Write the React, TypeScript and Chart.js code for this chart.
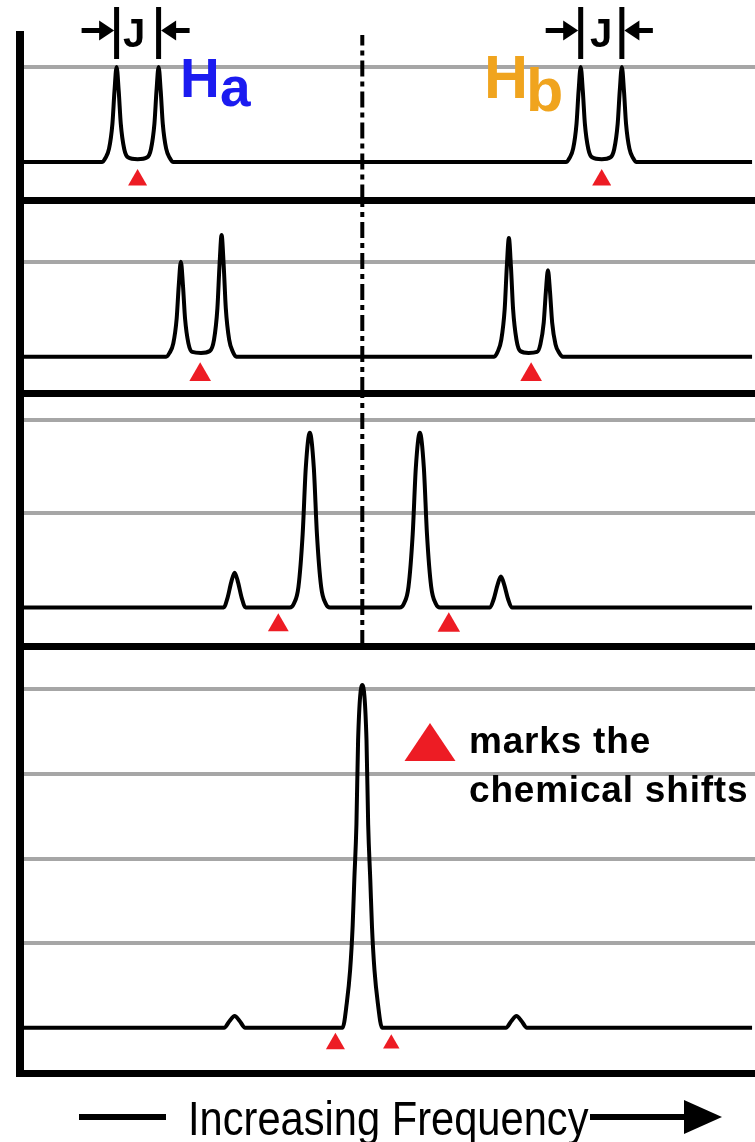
import React, { useEffect, useRef } from "react";
import { Chart, registerables } from "chart.js";

Chart.register(...registerables);

// Frequency axis in Hz (0 = midpoint of the two chemical shifts in the last panel)
const FREQ_MIN = -81.5;
const FREQ_MAX = 93.5;
const CENTER_HZ = 0;

// Spectra: [frequency (Hz), intensity], one per panel
const SPECTRUM_1: [number, number][] = [
  [-81.5, 0], [-62, 0], [-61.2, 0.04], [-60.3, 0.14], [-59.5, 0.4], [-59, 0.75], [-58.5, 1], [-58, 0.75],
  [-57.5, 0.4], [-56.7, 0.14], [-55.8, 0.05], [-53.5, 0.03], [-51.2, 0.05], [-50.3, 0.14], [-49.5, 0.4],
  [-49, 0.75], [-48.5, 1], [-48, 0.75], [-47.5, 0.4], [-46.7, 0.14], [-45.8, 0.04], [-45, 0],
  [48.5, 0], [49.3, 0.04], [50.2, 0.14], [51, 0.4], [51.5, 0.75], [52, 1], [52.5, 0.75], [53, 0.4],
  [53.8, 0.14], [54.7, 0.05], [57, 0.03], [59.1, 0.05], [60, 0.14], [60.8, 0.4], [61.3, 0.75], [61.8, 1],
  [62.3, 0.75], [62.8, 0.4], [63.6, 0.14], [64.5, 0.04], [65.3, 0], [92.8, 0],
];
const SPECTRUM_2: [number, number][] = [
  [-81.5, 0], [-46.7, 0], [-45.9, 0.04], [-45, 0.14], [-44.2, 0.4], [-43.7, 0.75], [-43.2, 1], [-42.7, 0.75],
  [-42.2, 0.4], [-41.4, 0.14], [-40.5, 0.05], [-38.4, 0.04], [-36.3, 0.06], [-35.3, 0.18], [-34.5, 0.51],
  [-34, 0.96], [-33.5, 1.28], [-33, 0.96], [-32.5, 0.51], [-31.7, 0.18], [-30.8, 0.05], [-30, 0],
  [31.4, 0], [32.2, 0.05], [33.1, 0.18], [33.9, 0.5], [34.4, 0.94], [34.9, 1.25], [35.4, 0.94], [35.9, 0.5],
  [36.7, 0.18], [37.6, 0.06], [39.6, 0.04], [41.6, 0.05], [42.4, 0.13], [43.2, 0.36], [43.7, 0.68],
  [44.2, 0.91], [44.7, 0.68], [45.2, 0.36], [46, 0.13], [46.9, 0.04], [47.7, 0], [92.8, 0],
];
const SPECTRUM_3: [number, number][] = [
  [-81.5, 0], [-33, 0], [-32.1, 0.1], [-31.2, 0.27], [-30.4, 0.37], [-29.6, 0.27], [-28.7, 0.1], [-27.8, 0],
  [-17.3, 0], [-16.3, 0.04], [-15.2, 0.22], [-14.2, 0.78], [-13.45, 1.49], [-12.5, 1.86], [-11.55, 1.49],
  [-10.8, 0.78], [-9.8, 0.22], [-8.7, 0.04], [-7.7, 0],
  [8.9, 0], [9.9, 0.04], [11, 0.22], [12, 0.78], [12.75, 1.49], [13.7, 1.86], [14.65, 1.49], [15.4, 0.78],
  [16.4, 0.22], [17.5, 0.04], [18.5, 0],
  [30.4, 0], [31.3, 0.09], [32.2, 0.24], [33, 0.33], [33.8, 0.24], [34.7, 0.09], [35.6, 0], [92.8, 0],
];
const SPECTRUM_4: [number, number][] = [
  [-81.5, 0], [-32.9, 0], [-31.6, 0.08], [-30.4, 0.14], [-29.2, 0.08], [-27.9, 0],
  [-4.7, 0], [-3.7, 0.29], [-2.9, 0.68], [-2.3, 1.2], [-1.9, 1.75], [-1.4, 2.4], [-1, 3.4], [0, 4.05],
  [1, 3.4], [1.4, 2.4], [1.9, 1.75], [2.3, 1.2], [2.9, 0.68], [3.7, 0.29], [4.7, 0],
  [34.2, 0], [35.5, 0.08], [36.7, 0.14], [37.9, 0.08], [39.2, 0], [92.8, 0],
];

// Chemical shifts (red triangles), Hz
const SHIFTS_1 = [-53.5, 57];
const SHIFTS_2 = [-38.6, 40.2];
const SHIFTS_3 = [-20, 20.6];
const SHIFTS_4 = [-6.4, 6.9];

// Peak pairs in panel 1 marked with J
const J_PAIRS: [number, number][] = [[-58.5, -48.5], [52, 61.8]];

// Panel intensity ranges and grid tick values
const PANEL_MIN = [-0.405, -0.382, -0.41, -0.541];
const PANEL_MAX = [1.337, 1.644, 2.282, 4.512];
const GRID_TICKS = [[1], [1], [1, 2], [1, 2, 3, 4]];
const MARKER_Y = -0.19;

// ---- styles ----
const RED = "#ED1C24";
const GRAY = "#A6A6A6";
const PANEL_WEIGHTS = [165.5, 192.5, 253, 427.5];
const MARKER_RADII = [[11, 11], [12.5, 12.5], [12, 13], [11, 9.5]];
const AXES = ["y1", "y2", "y3", "y4"];
const FONT = '"Liberation Sans", Arial, Helvetica, sans-serif';

function arrow(ctx: CanvasRenderingContext2D, xFrom: number, xTip: number, y: number, headLen: number, headHalf: number, lw: number) {
  const dir = Math.sign(xTip - xFrom);
  const xBase = xTip - dir * headLen;
  ctx.lineWidth = lw;
  ctx.beginPath();
  ctx.moveTo(xFrom, y);
  ctx.lineTo(xBase + dir, y);
  ctx.stroke();
  ctx.beginPath();
  ctx.moveTo(xTip, y);
  ctx.lineTo(xBase, y - headHalf);
  ctx.lineTo(xBase, y + headHalf);
  ctx.closePath();
  ctx.fill();
}

const annotatePlugin = {
  id: "annotate",
  afterDraw(chart: any) {
    const ctx: CanvasRenderingContext2D = chart.ctx;
    const xs = chart.scales.x;
    ctx.save();
    ctx.fillStyle = "#000";
    ctx.strokeStyle = "#000";
    ctx.lineCap = "butt";
    for (const [a, b] of J_PAIRS) {
      const pa = xs.getPixelForValue(a);
      const pb = xs.getPixelForValue(b);
      ctx.lineWidth = 5;
      ctx.beginPath();
      ctx.moveTo(pa, 7);
      ctx.lineTo(pa, 59);
      ctx.moveTo(pb, 7);
      ctx.lineTo(pb, 59);
      ctx.stroke();
      arrow(ctx, pa - 35, pa - 2.5, 30.5, 15, 10, 5);
      arrow(ctx, pb + 31, pb + 2.5, 30.5, 15, 10, 5);
    }
    // legend key triangle
    ctx.fillStyle = RED;
    ctx.beginPath();
    ctx.moveTo(430, 723);
    ctx.lineTo(455.5, 761);
    ctx.lineTo(404.5, 761);
    ctx.closePath();
    ctx.fill();
    // frequency arrow
    ctx.fillStyle = "#000";
    ctx.lineWidth = 6;
    ctx.beginPath();
    ctx.moveTo(79, 1117);
    ctx.lineTo(166, 1117);
    ctx.stroke();
    arrow(ctx, 590, 722, 1117, 38, 17, 6);
    ctx.restore();
  },
};

export default function App() {
  const ref = useRef<HTMLCanvasElement>(null);

  useEffect(() => {
    const spectra = [SPECTRUM_1, SPECTRUM_2, SPECTRUM_3, SPECTRUM_4];
    const shifts = [SHIFTS_1, SHIFTS_2, SHIFTS_3, SHIFTS_4];
    const datasets: any[] = [];

    shifts.forEach((s, i) => {
      datasets.push({
        label: "shift " + (i + 1),
        yAxisID: AXES[i],
        data: s.map((x) => ({ x, y: MARKER_Y })),
        showLine: false,
        pointStyle: "triangle",
        pointRadius: MARKER_RADII[i],
        pointBackgroundColor: RED,
        backgroundColor: RED,
        pointBorderWidth: 0,
        borderWidth: 0,
      });
    });

    spectra.forEach((sp, i) => {
      datasets.push({
        label: "spectrum " + (i + 1),
        yAxisID: AXES[i],
        data: sp.map(([x, y]) => ({ x, y })),
        borderColor: "#000",
        borderWidth: 4,
        pointRadius: 0,
        fill: false,
        cubicInterpolationMode: "monotone",
        borderJoinStyle: "round",
      });
    });

    for (let i = 0; i < 3; i++) {
      datasets.push({
        label: "center " + (i + 1),
        yAxisID: AXES[i],
        data: [
          { x: CENTER_HZ, y: PANEL_MIN[i] },
          { x: CENTER_HZ, y: PANEL_MAX[i] },
        ],
        borderColor: "#000",
        borderWidth: 4,
        borderDash: [16, 5, 5, 5],
        pointRadius: 0,
        tension: 0,
        fill: false,
      });
    }

    const scales: any = {
      x: {
        type: "linear",
        min: FREQ_MIN,
        max: FREQ_MAX,
        bounds: "data",
        ticks: { display: false },
        grid: { display: false, drawTicks: false },
        border: { display: true, color: "#000", width: 7 },
      },
    };
    AXES.forEach((id, i) => {
      const min = PANEL_MIN[i];
      scales[id] = {
        type: "linear",
        position: "left",
        stack: "nmr",
        stackWeight: PANEL_WEIGHTS[i],
        weight: 4 - i,
        min,
        max: PANEL_MAX[i],
        bounds: "data",
        afterBuildTicks: (scale: any) => {
          scale.ticks = [min, ...GRID_TICKS[i]].map((v) => ({ value: v }));
        },
        ticks: { display: false },
        grid: {
          drawTicks: false,
          color: (c: any) => (c.tick && c.tick.value === min ? "#000" : GRAY),
          lineWidth: (c: any) => (c.tick && c.tick.value === min ? 7 : 4),
        },
        border: { display: true, color: "#000", width: 8 },
      };
    });

    const chart = new Chart(ref.current as HTMLCanvasElement, {
      type: "line",
      data: { datasets },
      options: {
        animation: false,
        responsive: false,
        maintainAspectRatio: false,
        devicePixelRatio: 1,
        events: [],
        layout: { autoPadding: false, padding: { top: 35, left: 20, right: 0, bottom: 68.5 } },
        plugins: { legend: { display: false }, tooltip: { enabled: false } },
        scales,
      } as any,
      plugins: [annotatePlugin],
    });
    return () => chart.destroy();
  }, []);

  const base: React.CSSProperties = {
    position: "absolute",
    fontFamily: FONT,
    lineHeight: 1,
    whiteSpace: "nowrap",
    margin: 0,
  };

  return (
    <div style={{ position: "absolute", left: 0, top: 0, width: 755, height: 1142, background: "#fff", overflow: "hidden" }}>
      <canvas ref={ref} width={755} height={1142} style={{ position: "absolute", left: 0, top: 0, width: 755, height: 1142 }} />
      <div style={{ ...base, left: 114, top: 12.7, width: 40, textAlign: "center", fontSize: 40, fontWeight: "bold" }}>J</div>
      <div style={{ ...base, left: 581, top: 12.7, width: 40, textAlign: "center", fontSize: 40, fontWeight: "bold" }}>J</div>
      <div style={{ ...base, left: 180, top: 51.4, fontSize: 55, fontWeight: "bold", color: "#1B1BF0" }}>H</div>
      <div style={{ ...base, left: 220, top: 60.4, fontSize: 55, fontWeight: "bold", color: "#1B1BF0" }}>a</div>
      <div style={{ ...base, left: 484, top: 47.4, fontSize: 61, fontWeight: "bold", color: "#F0A41E" }}>H</div>
      <div style={{ ...base, left: 526, top: 60.4, fontSize: 61, fontWeight: "bold", color: "#F0A41E" }}>b</div>
      <div style={{ ...base, left: 469, top: 721.7, fontSize: 37, fontWeight: "bold", letterSpacing: 0.8 }}>marks the</div>
      <div style={{ ...base, left: 469, top: 770.7, fontSize: 37, fontWeight: "bold", letterSpacing: 0.8 }}>chemical shifts</div>
      <div style={{ ...base, left: 188, top: 1093.5, fontSize: 49, transform: "scaleX(0.85)", transformOrigin: "left top" }}>
        Increasing Frequency
      </div>
    </div>
  );
}
